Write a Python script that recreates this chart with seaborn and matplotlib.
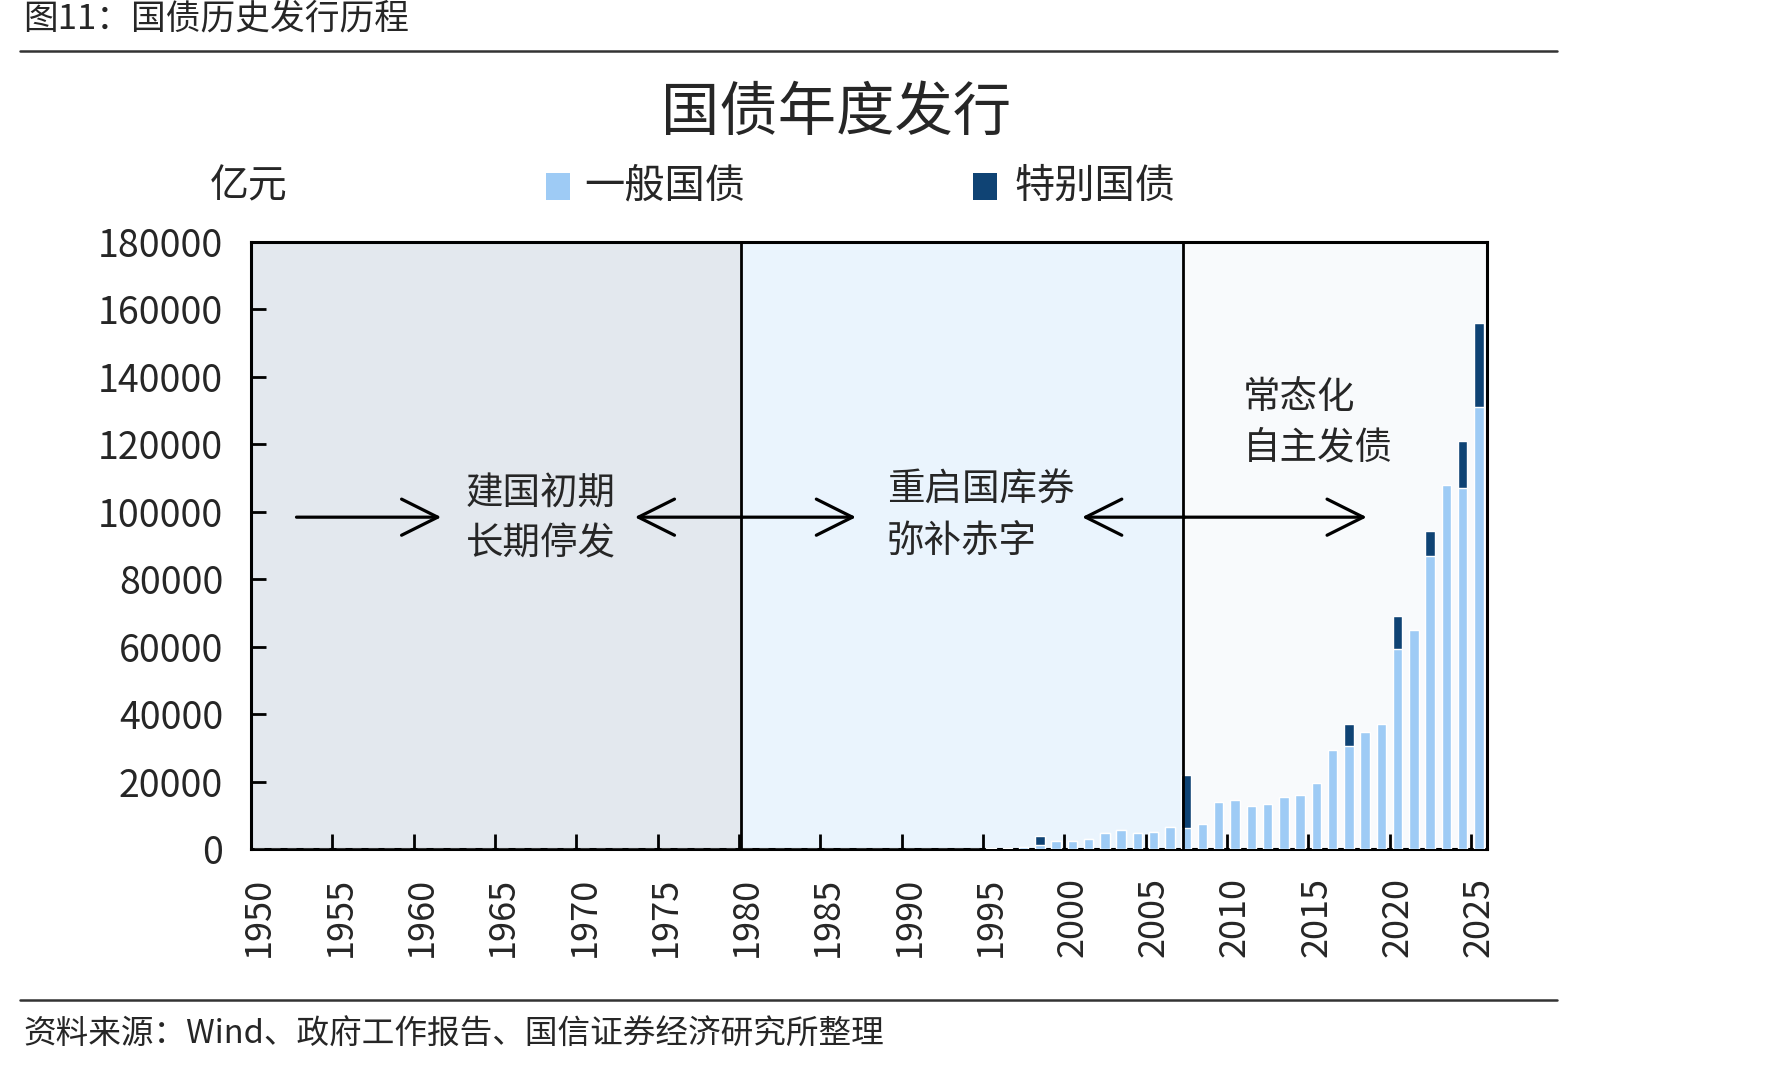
import numpy as np
import pandas as pd
import matplotlib
matplotlib.use("Agg")
import matplotlib.pyplot as plt
from matplotlib.patches import Rectangle, FancyArrowPatch
from matplotlib.lines import Line2D
import seaborn as sns

# ---- data (亿元) ----
years = list(range(1950, 2026))
general = [
    0, 0, 0, 0, 0, 0, 0, 0, 0, 0,                 # 1950-1959
    0, 0, 0, 0, 0, 0, 0, 0, 0, 0,                 # 1960-1969
    0, 0, 0, 0, 0, 0, 0, 0, 0, 0,                 # 1970-1979
    0, 0, 0, 0, 0, 0, 0, 0, 0, 0,                 # 1980-1989
    0, 0, 0, 0, 0, 300, 400, 500, 1200, 2400,     # 1990-1999
    2500, 3000, 4600, 5600, 4600, 5100, 6600, 6200, 7300, 14000,        # 2000-2009
    14500, 12800, 13300, 15400, 16000, 19700, 29300, 30400, 34600, 37200,  # 2010-2019
    59200, 64900, 87000, 108000, 107100, 131000,  # 2020-2025
]
special = [
    0, 0, 0, 0, 0, 0, 0, 0, 0, 0,
    0, 0, 0, 0, 0, 0, 0, 0, 0, 0,
    0, 0, 0, 0, 0, 0, 0, 0, 0, 0,
    0, 0, 0, 0, 0, 0, 0, 0, 0, 0,
    0, 0, 0, 0, 0, 0, 0, 0, 2700, 0,
    0, 0, 0, 0, 0, 0, 0, 15700, 0, 0,
    0, 0, 0, 0, 0, 0, 0, 6800, 0, 0,
    10000, 0, 7400, 0, 14000, 25100,
]
label_years = list(range(1950, 2026, 5))
y_ticks = list(range(0, 180001, 20000))
phase_bounds = [1949.5, 1979.6, 2006.8, 2025.5]

df = pd.DataFrame({"year": years, "general": general, "special": special})
df["total"] = df["general"] + df["special"]

c_general = "#9ECBF5"
c_special = "#0F4374"
bg_colors = ["#E3E8EE", "#EAF4FD", "#F8FAFC"]

sns.set_theme(style="white")
plt.rcParams["font.family"] = ["Noto Sans CJK SC", "DejaVu Sans"]

fig = plt.figure(figsize=(17.71, 10.67), dpi=100)
ax = fig.add_axes([0.1417, 0.2043, 0.698, 0.5689])

# phase backgrounds
for i in range(3):
    ax.axvspan(phase_bounds[i], phase_bounds[i + 1], color=bg_colors[i], lw=0, zorder=0)

# stacked bars: total in dark first, general on top
sns.barplot(data=df, x="year", y="total", native_scale=True, color=c_special,
            saturation=1, width=0.58, errorbar=None, ax=ax, zorder=2)
sns.barplot(data=df, x="year", y="general", native_scale=True, color=c_general,
            saturation=1, width=0.58, errorbar=None, ax=ax, zorder=3)

for xb in phase_bounds[1:3]:
    ax.axvline(xb, color="black", lw=2.0, zorder=4)

ax.set_xlim(1949.5, 2025.5)
ax.set_ylim(0, 180000)
ax.set_yticks(y_ticks)
ax.set_yticklabels([str(v) for v in y_ticks])
ax.set_xticks(label_years)
ax.set_xticklabels([str(y) for y in label_years], rotation=90)
ax.set_xticks([y - 0.5 for y in label_years[1:]], minor=True)
ax.tick_params(axis="x", which="major", length=0, pad=20, labelsize=26, bottom=True)
ax.tick_params(axis="x", which="minor", direction="in", length=11, width=2,
               color="black", bottom=True)
ax.tick_params(axis="y", direction="in", length=11, width=2, color="black",
               pad=20, labelsize=27, left=True)
ax.set_xlabel("")
ax.set_ylabel("")
for s in ax.spines.values():
    s.set_visible(True)
    s.set_color("black")
    s.set_linewidth(2.2)

# annotations
arrow_kw = dict(arrowstyle="->,head_length=1.3,head_width=0.65", mutation_scale=20,
                color="black", lw=2.3, zorder=5, shrinkA=0, shrinkB=0)
y_arr = 98400
for x0, x1 in [(1952.3, 1961.2), (1979.7, 1973.1), (1979.7, 1986.7),
               (2006.9, 2000.6), (2006.9, 2018.1)]:
    ax.add_patch(FancyArrowPatch((x0, y_arr), (x1, y_arr), **arrow_kw))

ax.text(1967.3, 98000, "建国初期\n长期停发", ha="center", va="center",
        fontsize=27, linespacing=1.42, zorder=6)
ax.text(1988.6, 98700, "重启国库券\n弥补赤字", ha="left", va="center",
        fontsize=27, linespacing=1.42, zorder=6)
ax.text(2010.5, 126500, "常态化\n自主发债", ha="left", va="center",
        fontsize=27, linespacing=1.38, zorder=6)

# title, unit, legend
fig.text(0.472, 0.894, "国债年度发行", ha="center", va="center", fontsize=42)
fig.text(0.1406, 0.8257, "亿元", ha="center", va="center", fontsize=28)
fig.add_artist(Rectangle((0.3083, 0.8126), 0.01355, 0.0253, transform=fig.transFigure,
                         color=c_general, lw=0))
fig.text(0.3298, 0.8257, "一般国债", ha="left", va="center", fontsize=29)
fig.add_artist(Rectangle((0.5494, 0.8126), 0.01355, 0.0253, transform=fig.transFigure,
                         color=c_special, lw=0))
fig.text(0.5731, 0.8257, "特别国债", ha="left", va="center", fontsize=29)

# header & footer
fig.text(0.013, 0.981, "图11：国债历史发行历程", ha="left", va="center", fontsize=25)
fig.add_artist(Line2D([0.0113, 0.879], [0.952, 0.952], transform=fig.transFigure,
                      color="#333333", lw=1.8))
fig.add_artist(Line2D([0.0113, 0.879], [0.0628, 0.0628], transform=fig.transFigure,
                      color="#333333", lw=1.8))
fig.text(0.013, 0.030, "资料来源：Wind、政府工作报告、国信证券经济研究所整理",
         ha="left", va="center", fontsize=23.5)

fig.savefig("out.png", dpi=100, facecolor="white")
